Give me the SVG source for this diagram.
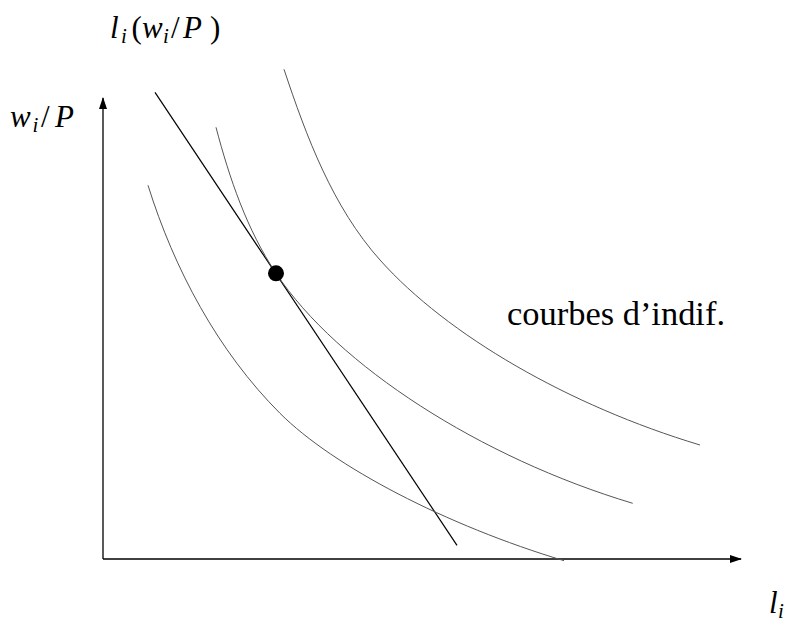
<svg xmlns="http://www.w3.org/2000/svg" width="790" height="622" viewBox="0 0 790 622">
<style>
.curve{fill:none;stroke:#555;stroke-width:1}
.axis{fill:none;stroke:#000;stroke-width:1.3}
.budget{fill:none;stroke:#000;stroke-width:1.2}
.lab{font-family:"Liberation Serif","DejaVu Serif",serif;font-size:31px;fill:#000}
.mi{font-style:italic}
.si{font-style:italic;font-size:21px}
.lbl{font-family:"Liberation Serif","DejaVu Serif",serif;font-size:34px;fill:#000}
</style>
<defs>
<marker id="arr" viewBox="0 0 12 8" refX="11" refY="4" markerWidth="12" markerHeight="8" markerUnits="userSpaceOnUse" orient="auto">
<path d="M0,0 L12,4 L0,8 Z" fill="#000"/>
</marker>
</defs>
<rect width="790" height="622" fill="#fff"/>
<g id="connectors">
<line id="y-axis" class="axis" x1="103" y1="559" x2="103" y2="98" marker-end="url(#arr)"/>
<line id="x-axis" class="axis" x1="103" y1="559" x2="741" y2="559" marker-end="url(#arr)"/>
<line id="budget-line" class="budget" x1="155" y1="92.3" x2="457" y2="545.3"/>
</g>
<g id="curve1">
<path class="curve" d="M148,185.3 C174.2,269.2 217.9,351.2 280,413.3 C333.3,466.6 446.9,525.6 564,560.7"/>
</g>
<g id="curve2">
<path class="curve" d="M216,127.3 C229.4,178.2 246.8,229.5 276,273.3 C337.5,365.6 480.2,457.6 632.7,503.3"/>
</g>
<g id="curve3">
<path class="curve" d="M284,69.3 C306.5,136.9 332.6,206.9 380,260 C447.3,335.3 568.9,405.6 700,445"/>
</g>
<g id="optimum">
<circle cx="276" cy="273.3" r="8" fill="#000"/>
</g>
<g id="label-top">
<text class="lab"><tspan class="mi" x="110" y="37.5">l</tspan><tspan class="si" x="121" y="42.5">i</tspan><tspan x="131.5" y="37.5">(</tspan><tspan class="mi" x="142" y="37.5">w</tspan><tspan class="si" x="163" y="42.5">i</tspan><tspan x="171" y="37.5">/</tspan><tspan class="mi" x="183" y="37.5">P</tspan><tspan x="210" y="37.5">)</tspan></text>
</g>
<g id="label-y">
<text class="lab"><tspan class="mi" x="10" y="127.3">w</tspan><tspan class="si" x="32.5" y="132.3">i</tspan><tspan x="41" y="127.3">/</tspan><tspan class="mi" x="55" y="127.3">P</tspan></text>
</g>
<g id="label-x">
<text class="lab"><tspan class="mi" x="769" y="613">l</tspan><tspan class="si" x="778" y="618">i</tspan></text>
</g>
<g id="label-curves">
<text class="lbl" x="507" y="325" textLength="218" lengthAdjust="spacingAndGlyphs">courbes d’indif.</text>
</g>
</svg>
